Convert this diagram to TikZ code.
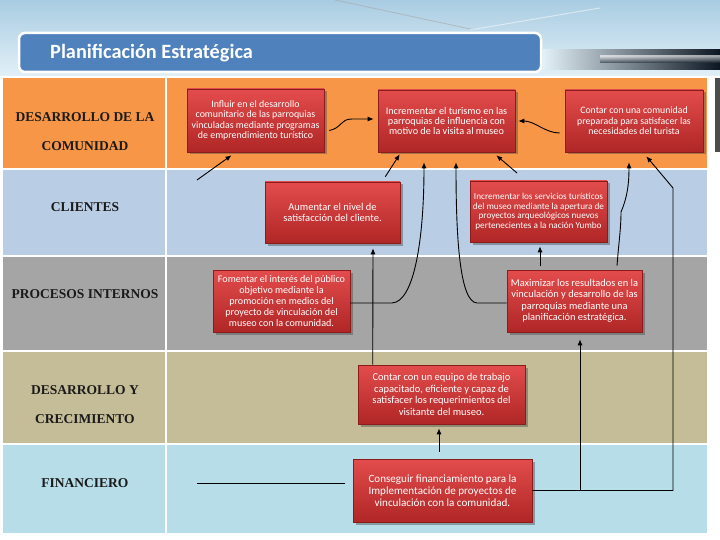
\documentclass[tikz,border=0pt]{standalone}
\usepackage{fontspec}
\setmainfont{Liberation Serif}
\newfontfamily\carlito{Carlito}
\usetikzlibrary{arrows.meta,shadows,calc}
\newcommand\boxfnt[2]{\carlito\fontsize{#1}{#2}\selectfont}
\definecolor{rowA}{HTML}{F79646}
\definecolor{rowB}{HTML}{B9CDE5}
\definecolor{rowC}{HTML}{A5A5A5}
\definecolor{rowD}{HTML}{C4BD97}
\definecolor{rowE}{HTML}{B7DDE8}
\definecolor{barblue}{HTML}{4F81BD}
\definecolor{redtop}{HTML}{E34C4C}
\definecolor{redbot}{HTML}{B02626}
\definecolor{redline}{HTML}{8A1C1C}
\definecolor{hdrtop}{HTML}{A9CCE2}
\definecolor{hdrbot}{HTML}{E2F0F7}
\definecolor{navy}{HTML}{0C1622}
\definecolor{labtxt}{HTML}{1A1A1A}
\begin{document}
\begin{tikzpicture}[x=1pt,y=-1pt,
  redbox/.style={rectangle, draw=redline, line width=0.6pt, top color=redtop, bottom color=redbot,
    text=white, align=center, inner sep=1pt,
    drop shadow={shadow xshift=2.5pt, shadow yshift=-2.5pt, opacity=0.45, fill=black!70}},
  rowlab/.style={font=\fontsize{13.5}{29}\selectfont\bfseries, text=labtxt, align=center, inner sep=0pt},
  conn/.style={draw=black, line width=0.9pt, -{Latex[length=6pt,width=5pt]}},
  plain/.style={draw=black, line width=0.9pt}]
\useasboundingbox (0,0) rectangle (720,540);
\fill[white] (0,0) rectangle (720,540);
% header
\shade[top color=hdrtop, bottom color=hdrbot] (0,0) rectangle (720,76);
\draw[black!35, line width=0.8pt, opacity=0.6] (335,0) -- (475,30);
\draw[white, line width=1pt, opacity=0.5] (470,30) -- (600,8);
\shade[left color=hdrbot, right color=navy] (543,50) rectangle (720,70);
\shade[top color=navy!0, bottom color=navy, opacity=0.6] (600,56) rectangle (720,63);
\draw[white, line width=2.5pt, fill=barblue, rounded corners=6pt] (19,33) rectangle (541,72);
\node[anchor=west, text=white, font=\carlito\bfseries\fontsize{20.3}{22}\selectfont, inner sep=0pt] (title) at (50,53) {Planificación Estratégica};
% rows
\fill[rowA] (3,78) rectangle (707,168);
\fill[rowB] (3,170) rectangle (707,255);
\fill[rowC] (3,257) rectangle (707,350);
\fill[rowD] (3,352) rectangle (707,443);
\fill[rowE] (3,445) rectangle (707,533);
\draw[white, line width=1.5pt] (166,78) -- (166,533);
\fill[black!70] (715,78) rectangle (720,152);
% row labels
\node[rowlab] (lab1) at (85,131.5) {DESARROLLO DE LA\\COMUNIDAD};
\node[rowlab] (lab2) at (85,207) {CLIENTES};
\node[rowlab] (lab3) at (85,294) {PROCESOS INTERNOS};
\node[rowlab] (lab4) at (85,404.5) {DESARROLLO Y\\CRECIMIENTO};
\node[rowlab] (lab5) at (85,483) {FINANCIERO};
% boxes
\node[redbox, minimum width=137pt, minimum height=63pt, font=\boxfnt{9.9}{10.4}] (b1) at (255.5,120.5)
  {Influir en el desarrollo\\comunitario de las parroquias\\vinculadas mediante programas\\de emprendimiento turístico};
\node[redbox, minimum width=137pt, minimum height=62pt, font=\boxfnt{10.2}{10.4}] (b2) at (446.5,121)
  {Incrementar el turismo en las\\parroquias de influencia con\\motivo de la visita al museo};
\node[redbox, minimum width=138pt, minimum height=62pt, font=\boxfnt{9.8}{10.4}] (b3) at (634,121)
  {Contar con una comunidad\\preparada para satisfacer las\\necesidades del turista};
\node[redbox, minimum width=135pt, minimum height=61pt, font=\boxfnt{10.5}{11.2}] (b4) at (332.5,212.5)
  {Aumentar el nivel de\\satisfacción del cliente.};
\node[redbox, minimum width=137pt, minimum height=61pt, font=\boxfnt{9.2}{9.9}] (b5) at (538.5,211.5)
  {Incrementar los servicios turísticos\\del museo mediante la apertura de\\proyectos arqueológicos nuevos\\pertenecientes a la nación Yumbo};
\node[redbox, minimum width=137pt, minimum height=62pt, font=\boxfnt{10.1}{11}] (b6) at (281.5,301)
  {Fomentar el interés del público\\objetivo mediante la\\promoción en medios del\\proyecto de vinculación del\\museo con la comunidad.};
\node[redbox, minimum width=135pt, minimum height=62pt, font=\boxfnt{10.4}{11.5}] (b7) at (574.5,301)
  {Maximizar los resultados en la\\vinculación y desarrollo de las\\parroquias mediante una\\planificación estratégica.};
\node[redbox, minimum width=167pt, minimum height=59pt, font=\boxfnt{10.5}{11.6}] (b8) at (441.5,394.5)
  {Contar con un equipo de trabajo\\capacitado, eficiente y capaz de\\satisfacer los requerimientos del\\visitante del museo.};
\node[redbox, minimum width=179pt, minimum height=63pt, font=\boxfnt{11.1}{12.2}] (b9) at (442.5,490.5)
  {Conseguir financiamiento para la\\Implementación de proyectos de\\vinculación con la comunidad.};
% free ends
\coordinate (t3) at (197,180);
\coordinate (t7) at (517,173);
\coordinate (j1) at (580,490.5);
\coordinate (f1) at (197,483);
\coordinate (f2) at (345,483);
% connectors
\draw[conn] ([xshift=5pt,yshift=-10pt]b1.east) .. controls (342,128) and (340,119) .. (352,119) -- ([xshift=-4pt,yshift=2pt]b2.west);
\draw[conn] ([xshift=-5pt,yshift=-12pt]b3.west) .. controls (545,133) and (535,121) .. ([xshift=3pt]b2.east);
\draw[conn] (t3) -- ([xshift=-24pt,yshift=-3pt]b1.south);
\draw[conn] ([xshift=-15pt,yshift=5pt]b4.north east) -- ([xshift=22pt,yshift=-2pt]b2.south west);
\draw[conn] ([yshift=-2pt]b6.east) -- (392,303) .. controls (414,302) and (424,240) .. ([xshift=-22.5pt,yshift=-10pt]b2.south);
\draw[conn] ([yshift=-2pt]b7.west) -- (477,303) .. controls (460,302) and (456,240) .. ([xshift=9.5pt,yshift=-10pt]b2.south);
\draw[conn] (t7) -- ([xshift=-19pt,yshift=-3pt]b2.south east);
\draw[conn] ([xshift=42.5pt,yshift=4pt]b7.north) .. controls (619,240) and (621,228) .. (621,212) .. controls (627,198) and (629,185) .. ([xshift=-5pt,yshift=-10pt]b3.south);
\draw[conn] (b9.east) -| (673,188) -- ([xshift=-57pt,yshift=-4pt]b3.south east);
\draw[conn] (j1) -- ([xshift=5.5pt,yshift=-7pt]b7.south);
\draw[conn] ([xshift=-34.5pt,yshift=4pt]b7.north) -- ([xshift=1.5pt,yshift=-4pt]b5.south);
\draw[conn] ([xshift=-3.5pt,yshift=7pt]b9.north) -- ([xshift=-2.5pt,yshift=-4pt]b8.south);
\draw[conn] ([xshift=15pt]b8.north west) -- ([xshift=40.5pt,yshift=-5pt]b4.south);
\draw[plain] (f1) -- (f2);
\end{tikzpicture}
\end{document}
